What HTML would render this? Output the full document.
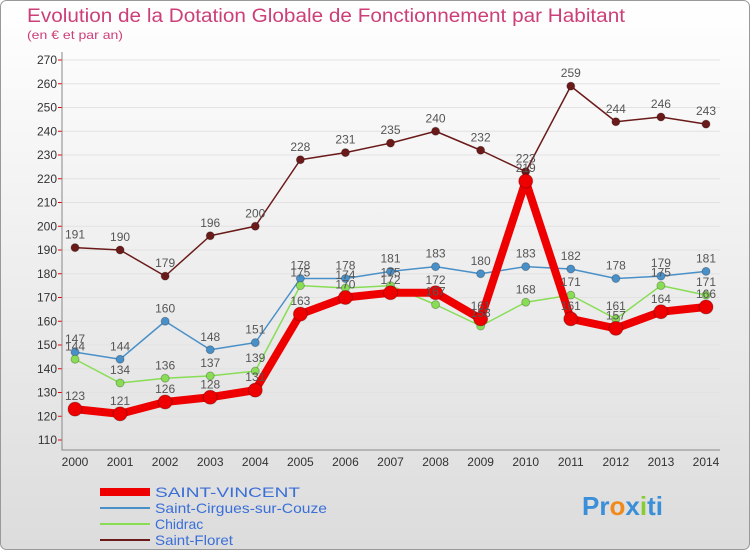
<!DOCTYPE html>
<html><head><meta charset="utf-8"><style>
body{margin:0;width:750px;height:550px;overflow:hidden;font-family:"Liberation Sans",sans-serif}
</style></head><body>
<svg width="750" height="550" xmlns="http://www.w3.org/2000/svg">
<defs><linearGradient id="bg" x1="0" y1="0" x2="0" y2="1"><stop offset="0" stop-color="#ffffff"/><stop offset="1" stop-color="#dcdcdc"/></linearGradient></defs>
<rect x="0.5" y="0.5" width="749" height="549" rx="6" fill="url(#bg)" stroke="#999"/>
<text x="27" y="22" font-size="19" fill="#cc3f78" textLength="598" lengthAdjust="spacingAndGlyphs">Evolution de la Dotation Globale de Fonctionnement par Habitant</text>
<text x="27" y="39" font-size="12" fill="#cc3f78" textLength="96" lengthAdjust="spacingAndGlyphs">(en € et par an)</text>
<g id="grid"></g><g id="axes"></g><g id="series"></g><g id="labels"></g>
<g>
<line x1="100" y1="492" x2="150" y2="492" stroke="#ee0000" stroke-width="8"/>
<text x="155" y="497" font-size="14" fill="#3a6fd8" textLength="145" lengthAdjust="spacingAndGlyphs">SAINT-VINCENT</text>
<line x1="100" y1="508" x2="150" y2="508" stroke="#4a90c8" stroke-width="2"/>
<text x="155" y="513" font-size="14" fill="#3a6fd8" textLength="172" lengthAdjust="spacingAndGlyphs">Saint-Cirgues-sur-Couze</text>
<line x1="100" y1="524" x2="150" y2="524" stroke="#88dd55" stroke-width="2"/>
<text x="155" y="529" font-size="14" fill="#3a6fd8">Chidrac</text>
<line x1="100" y1="540" x2="150" y2="540" stroke="#6b1a1a" stroke-width="2"/>
<text x="155" y="545" font-size="14" fill="#3a6fd8" textLength="78" lengthAdjust="spacingAndGlyphs">Saint-Floret</text>
</g>
<g font-size="26" font-weight="bold">
<text x="582" y="515"><tspan fill="#3a8fd8">Pr</tspan><tspan fill="#f08a1c">o</tspan><tspan fill="#3a8fd8">x</tspan><tspan fill="#88cc33">i</tspan><tspan fill="#3a8fd8">ti</tspan></text>
</g>
</svg>
<script>
const years=[2000,2001,2002,2003,2004,2005,2006,2007,2008,2009,2010,2011,2012,2013,2014];
const yTicks=[110,120,130,140,150,160,170,180,190,200,210,220,230,240,250,260,270];
const sv=[123,121,126,128,131,163,170,172,172,161,219,161,157,164,166];
const scc=[147,144,160,148,151,178,178,181,183,180,183,182,178,179,181];
const chidrac=[144,134,136,137,139,175,174,175,167,158,168,171,161,175,171];
const floret=[191,190,179,196,200,228,231,235,240,232,223,259,244,246,243];
const NS="http://www.w3.org/2000/svg";
const x=i=>75+i*(706-75)/(years.length-1);
const y=v=>440-(v-110)*(380/160);
function mk(tag,attrs,parent){const e=document.createElementNS(NS,tag);for(const k in attrs)e.setAttribute(k,attrs[k]);document.getElementById(parent).appendChild(e);return e;}
yTicks.forEach(t=>{
 const g=mk('line',{x1:62,x2:720,y1:y(t),y2:y(t),stroke:'#e2e2e2','stroke-width':1},'grid');
 
 
 const tk=mk('line',{x1:58,x2:62,y1:y(t),y2:y(t),stroke:'#e00','stroke-width':1},'axes');
 
 
 const lb=mk('text',{x:57,y:y(t)+4,'font-size':12,'text-anchor':'end',fill:'#333'},'axes');
 lb.textContent=t;
 
 
});
const ax=mk('path',{d:'M62,52 V450 H720',fill:'none',stroke:'#888'},'axes');


years.forEach((yr,i)=>{
 const lb=mk('text',{x:x(i),y:466,'font-size':12,'text-anchor':'middle',fill:'#333'},'axes');
 lb.textContent=yr;
 
 
});
function series(data,color,w,r,name){
 const p=mk('polyline',{points:data.map((v,i)=>x(i)+','+y(v)).join(' '),fill:'none',stroke:color,'stroke-width':w,'stroke-linejoin':'round'},'series');
 
 
 data.forEach((v,i)=>{
  const c=mk('circle',{cx:x(i),cy:y(v),r:r,fill:color,stroke:'rgba(0,0,0,0.25)','stroke-width':1},'series');
  
  
  const t=mk('text',{x:x(i),y:y(v)-9,'font-size':12,'text-anchor':'middle',fill:'#555'},'labels');
  t.textContent=v;
  
  
 });
}
series(floret,'#6b1a1a',1.5,4,'saint-floret');
series(scc,'#4a90c8',1.5,4,'saint-cirgues');
series(chidrac,'#88dd55',1.5,4,'chidrac');
series(sv,'#ee0000',8,7,'saint-vincent');
</script>
</body></html>
